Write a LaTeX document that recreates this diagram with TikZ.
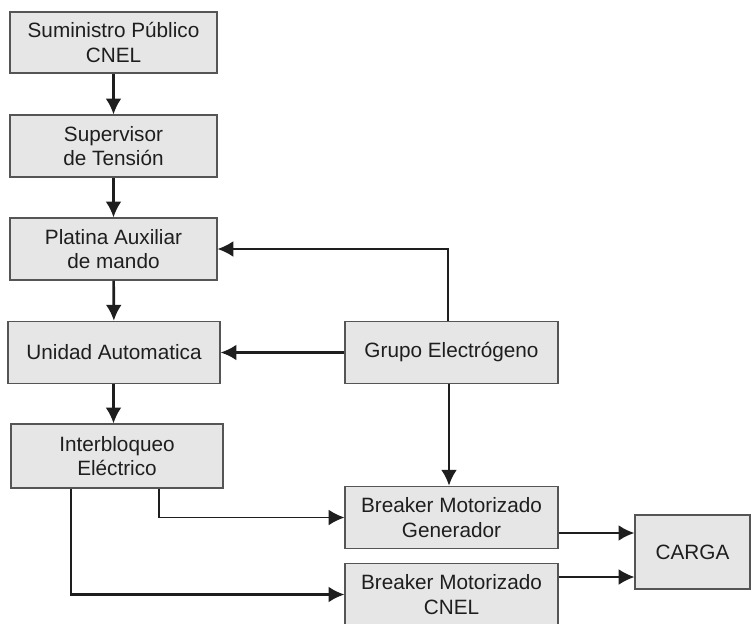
\documentclass[tikz,border=0pt]{standalone}
\usepackage{fontspec}
\setmainfont{Liberation Sans}
\definecolor{boxgray}{RGB}{230,230,230}
\definecolor{edgegray}{RGB}{85,85,85}
\definecolor{inkblack}{RGB}{30,30,30}
\usetikzlibrary{arrows.meta}

\begin{document}
\begin{tikzpicture}[x=0.02cm,y=-0.02cm,
  block/.style={draw=edgegray, fill=boxgray, line width=0.6pt, align=center, inner sep=0pt,
    minimum width=4.26cm, minimum height=1.25cm, font=\fontsize{11.8}{14}\selectfont, text=inkblack},
  flow/.style={-{Latex[length=9pt,width=9pt]}, line width=1.5pt, draw=inkblack},
  thinflow/.style={flow, line width=1.1pt}]
  \useasboundingbox (0,0) rectangle (751,623);
  \node[block, minimum width=4.14cm, minimum height=1.22cm] (sum) at (113.5,42.5) {Suministro Público\\CNEL};
  \node[block, minimum width=4.14cm, minimum height=1.24cm] (sup) at (113.5,146) {Supervisor\\de Tensión};
  \node[block, minimum width=4.14cm, minimum height=1.24cm] (plat) at (113.5,249) {Platina Auxiliar\\de mando};
  \node[block, minimum width=4.24cm] (uni) at (114,352.5) {Unidad Automatica};
  \node[block, minimum width=4.24cm, minimum height=1.28cm] (inter) at (117,456) {Interbloqueo\\Eléctrico};
  \node[block] (grupo) at (451.5,352.5) {Grupo Electrógeno};
  \node[block] (bgen) at (451.5,517.5) {Breaker Motorizado\\Generador};
  \node[block] (bcnel) at (451.5,594.5) {Breaker Motorizado\\CNEL};
  \node[block, minimum width=2.3cm, minimum height=1.48cm] (carga) at (692.5,552) {CARGA};

  \draw[flow] (sum) -- (sup);
  \draw[flow] (sup) -- (plat);
  \draw[flow] (plat) -- (uni);
  \draw[flow] (uni.south -| plat.south) -- (inter.north -| plat.south);
  \draw[flow] (grupo) -- (uni);
  \draw[thinflow] ([xshift=-0.07cm]grupo.north) |- (plat);
  \draw[flow] ([xshift=-0.05cm]grupo.south) -- ([xshift=-0.05cm]bgen.north);
  \draw[thinflow] ([xshift=0.84cm]inter.south) |- (bgen);
  \draw[flow] ([xshift=-0.92cm]inter.south) |- (bcnel);
  \draw[flow] ([yshift=-0.31cm]bgen.east) -- ([yshift=-0.31cm]bgen.east -| carga.west);
  \draw[thinflow] ([yshift=0.35cm]bcnel.east) -- ([yshift=0.35cm]bcnel.east -| carga.west);
\end{tikzpicture}
\end{document}
